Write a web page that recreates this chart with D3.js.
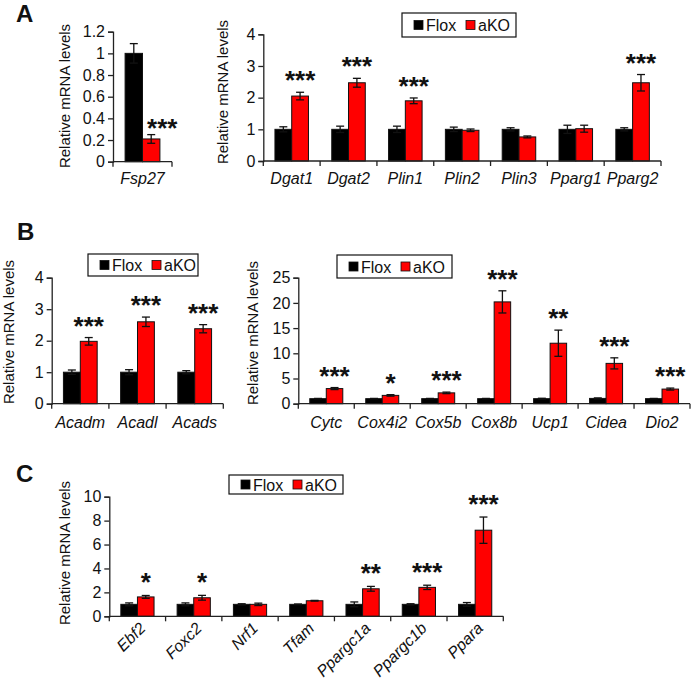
<!DOCTYPE html>
<html><head><meta charset="utf-8">
<script src="https://cdn.jsdelivr.net/npm/d3@7"></script>
<style>
html,body{margin:0;padding:0;background:#fff;}
svg{display:block;font-family:"Liberation Sans",Arial,sans-serif;}
</style></head><body>
<svg id="chart" width="693" height="683"></svg>
<script>
// ---------- DATA ----------
const seriesNames = ["Flox", "aKO"];

const catsA1 = ["Fsp27"];
const floxA1 = [1.0];
const floxErrA1 = [0.09];
const akoA1 = [0.21];
const akoErrA1 = [0.04];
const sigA1 = ["***"];
const ticksA1 = [0, 0.2, 0.4, 0.6, 0.8, 1, 1.2];

const catsA2 = ["Dgat1", "Dgat2", "Plin1", "Plin2", "Plin3", "Pparg1", "Pparg2"];
const floxA2 = [1.0, 1.0, 1.0, 1.0, 1.0, 1.0, 1.0];
const floxErrA2 = [0.08, 0.1, 0.1, 0.07, 0.05, 0.13, 0.05];
const akoA2 = [2.05, 2.47, 1.9, 0.97, 0.76, 1.02, 2.47];
const akoErrA2 = [0.12, 0.14, 0.09, 0.04, 0.03, 0.11, 0.26];
const sigA2 = ["***", "***", "***", "", "", "", "***"];
const ticksA2 = [0, 1, 2, 3, 4];

const catsB1 = ["Acadm", "Acadl", "Acads"];
const floxB1 = [1.0, 1.0, 1.0];
const floxErrB1 = [0.07, 0.08, 0.05];
const akoB1 = [1.98, 2.6, 2.38];
const akoErrB1 = [0.12, 0.15, 0.13];
const sigB1 = ["***", "***", "***"];
const ticksB1 = [0, 1, 2, 3, 4];

const catsB2 = ["Cytc", "Cox4i2", "Cox5b", "Cox8b", "Ucp1", "Cidea", "Dio2"];
const floxB2 = [1.0, 1.0, 1.0, 1.0, 1.0, 1.05, 1.0];
const floxErrB2 = [0.05, 0.05, 0.05, 0.05, 0.08, 0.1, 0.05];
const akoB2 = [3.0, 1.65, 2.15, 20.2, 12.0, 8.0, 2.9];
const akoErrB2 = [0.2, 0.15, 0.15, 2.2, 2.6, 1.1, 0.2];
const sigB2 = ["***", "*", "***", "***", "**", "***", "***"];
const ticksB2 = [0, 5, 10, 15, 20, 25];

const catsC = ["Ebf2", "Foxc2", "Nrf1", "Tfam", "Ppargc1a", "Ppargc1b", "Ppara"];
const floxC = [1.0, 1.0, 1.0, 1.0, 1.0, 1.0, 1.0];
const floxErrC = [0.12, 0.12, 0.05, 0.03, 0.2, 0.05, 0.15];
const akoC = [1.62, 1.55, 1.0, 1.3, 2.3, 2.42, 7.2];
const akoErrC = [0.12, 0.2, 0.1, 0.03, 0.2, 0.18, 1.1];
const sigC = ["*", "*", "", "", "**", "***", "***"];
const ticksC = [0, 2, 4, 6, 8, 10];

const yTitle = "Relative mRNA levels";
const panelLetters = ["A", "B", "C"];

// ---------- DRAW ----------
const svg = d3.select("#chart");
const RED = "#ff0000", BLACK = "#000000", AXIS = "#222";

function panel(cfg) {
  const g = svg.append("g");
  const y = d3.scaleLinear().domain([0, cfg.ticks[cfg.ticks.length - 1]]).range([cfg.y0, cfg.yTop]);
  const x = d3.scaleBand().domain(cfg.cats).range([cfg.x0, cfg.x1]).paddingInner(0).paddingOuter(0);
  const bw = x.bandwidth();
  const barW = bw * 0.295;

  // y axis
  const ya = d3.axisLeft(y).tickValues(cfg.ticks).tickSize(5).tickPadding(3)
    .tickFormat(d => String(+d.toFixed(2)));
  const yg = g.append("g").attr("transform", `translate(${cfg.x0},0)`).call(ya);
  yg.select(".domain").attr("stroke", AXIS).attr("stroke-width", 1.3);
  yg.selectAll(".tick line").attr("stroke", AXIS).attr("stroke-width", 1.3);
  yg.selectAll(".tick text").attr("font-size", 16).attr("fill", "#111")
    .attr("font-family", '"Liberation Sans",Arial,sans-serif');

  // bars
  const rows = cfg.cats.map((c, i) => ({c, i}));
  const series = [
    {vals: cfg.flox, errs: cfg.floxErr, fill: BLACK, off: -barW},
    {vals: cfg.ako, errs: cfg.akoErr, fill: RED, off: 0}
  ];
  series.forEach(s => {
    g.selectAll(null).data(rows).enter().append("rect")
      .attr("x", d => x(d.c) + bw / 2 + s.off)
      .attr("y", d => y(s.vals[d.i]))
      .attr("width", barW)
      .attr("height", d => y(0) - y(s.vals[d.i]))
      .attr("fill", s.fill).attr("stroke", "#111").attr("stroke-width", 1);
    const eg = g.selectAll(null).data(rows).enter().append("g")
      .attr("stroke", "#111").attr("stroke-width", 1.3);
    const cx = d => x(d.c) + bw / 2 + s.off + barW / 2;
    eg.append("line").attr("x1", cx).attr("x2", cx)
      .attr("y1", d => y(s.vals[d.i] - s.errs[d.i])).attr("y2", d => y(s.vals[d.i] + s.errs[d.i]));
    eg.append("line").attr("x1", d => cx(d) - 4).attr("x2", d => cx(d) + 4)
      .attr("y1", d => y(s.vals[d.i] + s.errs[d.i])).attr("y2", d => y(s.vals[d.i] + s.errs[d.i]));
    eg.append("line").attr("x1", d => cx(d) - 4).attr("x2", d => cx(d) + 4)
      .attr("y1", d => y(s.vals[d.i] - s.errs[d.i])).attr("y2", d => y(s.vals[d.i] - s.errs[d.i]));
  });

  // x axis
  g.append("line").attr("x1", cfg.x0).attr("x2", cfg.x1).attr("y1", cfg.y0).attr("y2", cfg.y0)
    .attr("stroke", AXIS).attr("stroke-width", 1.3);
  const bounds = d3.range(cfg.cats.length + 1).map(i => cfg.x0 + i * bw);
  g.selectAll(null).data(bounds).enter().append("line")
    .attr("x1", d => d).attr("x2", d => d).attr("y1", cfg.y0).attr("y2", cfg.y0 + 5)
    .attr("stroke", AXIS).attr("stroke-width", 1.3);

  // category labels
  const lab = g.selectAll(null).data(rows).enter().append("text")
    .text(d => d.c).attr("font-size", 16).attr("font-style", "italic").attr("fill", "#111");
  if (cfg.rotate) {
    lab.attr("text-anchor", "end")
      .attr("transform", d => `translate(${x(d.c) + bw / 2 + 9},${cfg.y0 + 13}) rotate(-45)`);
  } else {
    lab.attr("text-anchor", "middle").attr("x", d => x(d.c) + bw / 2).attr("y", cfg.catY);
  }

  // significance stars (placed above the aKO error bar)
  g.selectAll(null).data(rows.filter(d => cfg.sig[d.i])).enter().append("text")
    .text(d => cfg.sig[d.i])
    .attr("text-anchor", "middle").attr("font-size", 26).attr("font-weight", "bold").attr("fill", "#111")
    .attr("x", d => x(d.c) + bw / 2 + barW / 2 + (cfg.starDx || 0))
    .attr("y", d => y(cfg.ako[d.i] + cfg.akoErr[d.i]) - cfg.starGap + 15);

  // y title
  g.append("text").text(yTitle).attr("font-size", 15).attr("fill", "#111")
    .attr("text-anchor", "middle")
    .attr("transform", `translate(${cfg.ylx},${cfg.lyy}) rotate(-90)`);

  // legend
  if (cfg.legend) {
    const L = cfg.legend;
    const lg = g.append("g");
    lg.append("rect").attr("x", L.x).attr("y", L.y).attr("width", L.w).attr("height", L.h)
      .attr("fill", "#fff").attr("stroke", "#111").attr("stroke-width", 1.2);
    const cy = L.y + L.h / 2;
    const items = [
      {name: seriesNames[0], fill: BLACK, dx: 12},
      {name: seriesNames[1], fill: RED, dx: 64}
    ];
    items.forEach(it => {
      lg.append("rect").attr("x", L.x + it.dx).attr("y", cy - 4.5).attr("width", 9).attr("height", 9)
        .attr("fill", it.fill).attr("stroke", "#111").attr("stroke-width", 0.8);
      lg.append("text").text(it.name).attr("x", L.x + it.dx + 12).attr("y", cy + 6)
        .attr("font-size", 16).attr("fill", "#111");
    });
  }
}

panel({cats: catsA1, flox: floxA1, floxErr: floxErrA1, ako: akoA1, akoErr: akoErrA1, sig: sigA1, ticks: ticksA1,
  x0: 113, x1: 172, yTop: 31.7, y0: 161.7, catY: 184, starGap: 13, starDx: 11, ylx: 70, lyy: 96});
panel({cats: catsA2, flox: floxA2, floxErr: floxErrA2, ako: akoA2, akoErr: akoErrA2, sig: sigA2, ticks: ticksA2,
  x0: 263.3, x1: 661, yTop: 34.3, y0: 161, catY: 184, starGap: 18, ylx: 228, lyy: 92,
  legend: {x: 402, y: 13, w: 114, h: 24}});
panel({cats: catsB1, flox: floxB1, floxErr: floxErrB1, ako: akoB1, akoErr: akoErrB1, sig: sigB1, ticks: ticksB1,
  x0: 51.7, x1: 223.3, yTop: 277.7, y0: 403.7, catY: 428, starGap: 18, ylx: 14, lyy: 332,
  legend: {x: 88, y: 254, w: 110, h: 22}});
panel({cats: catsB2, flox: floxB2, floxErr: floxErrB2, ako: akoB2, akoErr: akoErrB2, sig: sigB2, ticks: ticksB2,
  x0: 298.3, x1: 690, yTop: 277.7, y0: 403.7, catY: 428, starGap: 18, ylx: 258, lyy: 333,
  legend: {x: 337, y: 255, w: 115, h: 23}});
panel({cats: catsC, flox: floxC, floxErr: floxErrC, ako: akoC, akoErr: akoErrC, sig: sigC, ticks: ticksC,
  x0: 109.3, x1: 503.3, yTop: 496.7, y0: 616.3, rotate: true, starGap: 19, ylx: 70, lyy: 553,
  legend: {x: 229, y: 475, w: 114, h: 19}});

// panel letters
const letterPos = [[16, 22], [17, 240], [16, 482]];
svg.selectAll(null).data(panelLetters).enter().append("text")
  .text(d => d).attr("x", (d, i) => letterPos[i][0]).attr("y", (d, i) => letterPos[i][1])
  .attr("font-size", 24).attr("font-weight", "bold").attr("fill", "#111");
</script>
</body></html>
